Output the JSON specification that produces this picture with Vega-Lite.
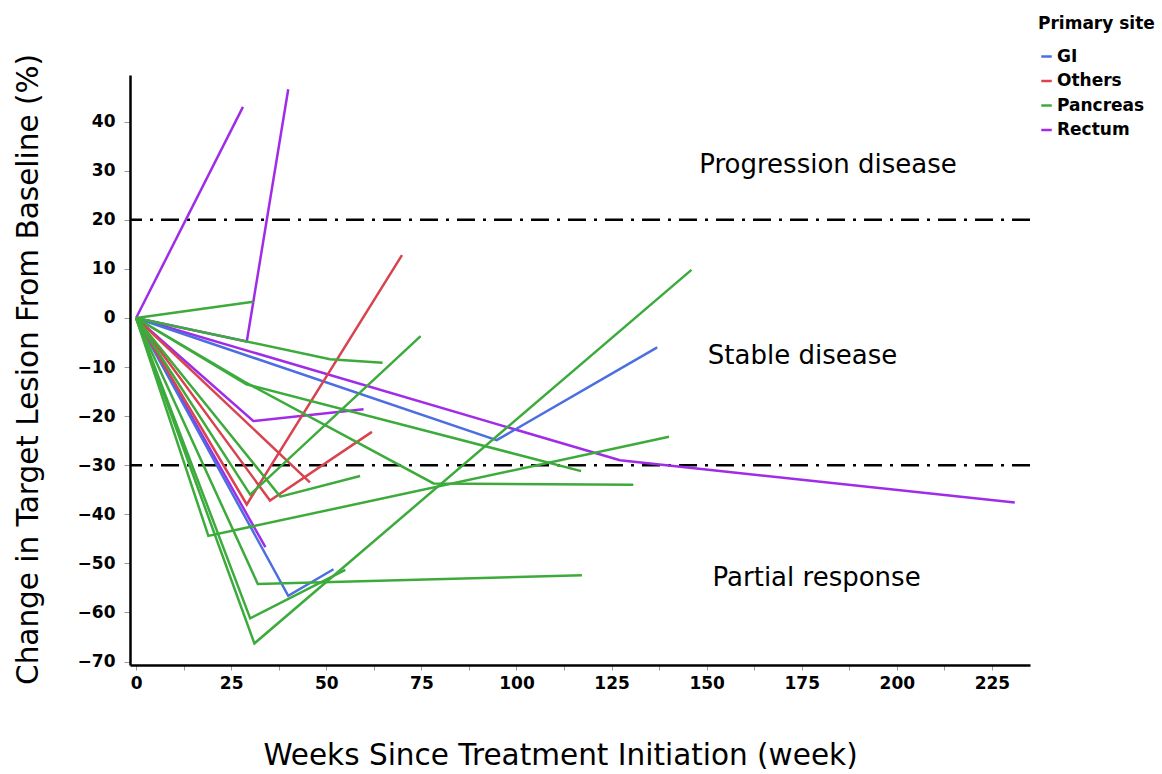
{
  "$schema": "https://vega.github.io/schema/vega-lite/v6.json",
  "width": 900,
  "height": 590,
  "autosize": {"type": "none"},
  "padding": {"left": 130, "top": 75, "right": 132, "bottom": 109},
  "background": "white",
  "config": {
    "view": {"stroke": null},
    "font": "DejaVu Sans",
    "axis": {"grid": false}
  },
  "datasets": {
    "lesions": [
      {"patient": "R1", "site": "Rectum", "week": 0, "change": 0},
      {"patient": "R1", "site": "Rectum", "week": 28.1, "change": 43},
      {"patient": "R2", "site": "Rectum", "week": 0, "change": 0},
      {"patient": "R2", "site": "Rectum", "week": 29.1, "change": -4.8},
      {"patient": "R2", "site": "Rectum", "week": 40, "change": 46.6},
      {"patient": "R3", "site": "Rectum", "week": 0, "change": 0},
      {"patient": "R3", "site": "Rectum", "week": 30.8, "change": -21},
      {"patient": "R3", "site": "Rectum", "week": 59.8, "change": -18.6},
      {"patient": "R4", "site": "Rectum", "week": 0, "change": 0},
      {"patient": "R4", "site": "Rectum", "week": 127.2, "change": -29},
      {"patient": "R4", "site": "Rectum", "week": 231, "change": -37.6},
      {"patient": "R5", "site": "Rectum", "week": 0, "change": 0},
      {"patient": "R5", "site": "Rectum", "week": 34, "change": -46.7},
      {"patient": "G1", "site": "GI", "week": 0, "change": 0},
      {"patient": "G1", "site": "GI", "week": 94.8, "change": -24.9},
      {"patient": "G1", "site": "GI", "week": 137, "change": -6.0},
      {"patient": "G2", "site": "GI", "week": 0, "change": 0},
      {"patient": "G2", "site": "GI", "week": 40, "change": -56.6},
      {"patient": "G2", "site": "GI", "week": 51.9, "change": -51.2},
      {"patient": "O1", "site": "Others", "week": 0, "change": 0},
      {"patient": "O1", "site": "Others", "week": 29.1, "change": -38},
      {"patient": "O1", "site": "Others", "week": 69.9, "change": 12.8},
      {"patient": "O2", "site": "Others", "week": 0, "change": 0},
      {"patient": "O2", "site": "Others", "week": 35.2, "change": -37.2},
      {"patient": "O2", "site": "Others", "week": 62, "change": -23.2},
      {"patient": "O3", "site": "Others", "week": 0, "change": 0},
      {"patient": "O3", "site": "Others", "week": 45.7, "change": -33.5},
      {"patient": "Pa", "site": "Pancreas", "week": 0, "change": 0},
      {"patient": "Pa", "site": "Pancreas", "week": 30.8, "change": 3.3},
      {"patient": "Pb", "site": "Pancreas", "week": 0, "change": 0},
      {"patient": "Pb", "site": "Pancreas", "week": 51, "change": -8.4},
      {"patient": "Pb", "site": "Pancreas", "week": 64.8, "change": -9.1},
      {"patient": "Pc", "site": "Pancreas", "week": 0, "change": 0},
      {"patient": "Pc", "site": "Pancreas", "week": 29, "change": -13.5},
      {"patient": "Pc", "site": "Pancreas", "week": 117, "change": -31.2},
      {"patient": "Pd", "site": "Pancreas", "week": 0, "change": 0},
      {"patient": "Pd", "site": "Pancreas", "week": 28.5, "change": -13},
      {"patient": "Pd", "site": "Pancreas", "week": 78.2, "change": -33.7},
      {"patient": "Pd", "site": "Pancreas", "week": 130.7, "change": -34},
      {"patient": "Pe", "site": "Pancreas", "week": 0, "change": 0},
      {"patient": "Pe", "site": "Pancreas", "week": 30, "change": -36},
      {"patient": "Pe", "site": "Pancreas", "week": 74.8, "change": -3.7},
      {"patient": "Pf", "site": "Pancreas", "week": 0, "change": 0},
      {"patient": "Pf", "site": "Pancreas", "week": 37.9, "change": -36.4},
      {"patient": "Pf", "site": "Pancreas", "week": 58.9, "change": -32.2},
      {"patient": "Pg", "site": "Pancreas", "week": 0, "change": 0},
      {"patient": "Pg", "site": "Pancreas", "week": 19, "change": -44.4},
      {"patient": "Pg", "site": "Pancreas", "week": 140.1, "change": -24.2},
      {"patient": "Ph", "site": "Pancreas", "week": 0, "change": 0},
      {"patient": "Ph", "site": "Pancreas", "week": 32, "change": -54.2},
      {"patient": "Ph", "site": "Pancreas", "week": 117.2, "change": -52.4},
      {"patient": "Pi", "site": "Pancreas", "week": 0, "change": 0},
      {"patient": "Pi", "site": "Pancreas", "week": 30, "change": -61.2},
      {"patient": "Pi", "site": "Pancreas", "week": 55, "change": -51.3},
      {"patient": "Pj", "site": "Pancreas", "week": 0, "change": 0},
      {"patient": "Pj", "site": "Pancreas", "week": 31.1, "change": -66.3},
      {"patient": "Pj", "site": "Pancreas", "week": 146, "change": 9.8}
    ],
    "thresholds": [
      {"change": 20},
      {"change": -30}
    ],
    "zones": [
      {"label": "Progression disease", "week": 181.9, "change": 29.5},
      {"label": "Stable disease", "week": 175.2, "change": -9.4},
      {"label": "Partial response", "week": 178.9, "change": -54.6}
    ]
  },
  "layer": [
    {
      "data": {"name": "thresholds"},
      "mark": {"type": "rule", "color": "black", "strokeWidth": 2.5, "strokeDash": [18, 8, 3, 8]},
      "encoding": {
        "y": {
          "field": "change", "type": "quantitative",
          "scale": {"domain": [-70.7, 49.5], "nice": false, "zero": false},
          "axis": {
            "title": "Change in Target Lesion From Baseline (%)",
            "values": [-70, -60, -50, -40, -30, -20, -10, 0, 10, 20, 30, 40],
            "labelFontSize": 17, "labelFontWeight": "bold", "labelColor": "black",
            "labelPadding": 9,
            "tickSize": 6, "tickColor": "#999", "tickWidth": 1,
            "domainColor": "black", "domainWidth": 2.5,
            "titleFontSize": 29.5, "titleFontWeight": "normal", "titleColor": "black",
            "titleX": -102, "titleY": 294, "titleBaseline": "middle", "titleAlign": "center", "titleAngle": -90
          }
        }
      }
    },
    {
      "data": {"name": "lesions"},
      "mark": {"type": "line", "strokeWidth": 2.5},
      "encoding": {
        "x": {
          "field": "week", "type": "quantitative",
          "scale": {"domain": [-1.6, 235], "nice": false, "zero": false},
          "axis": {
            "title": "Weeks Since Treatment Initiation (week)",
            "values": [0, 12.5, 25, 37.5, 50, 62.5, 75, 87.5, 100, 112.5, 125, 137.5, 150, 162.5, 175, 187.5, 200, 212.5, 225],
            "labelExpr": "datum.value % 25 == 0 ? datum.label : ''",
            "labelFontSize": 17, "labelFontWeight": "bold", "labelColor": "black",
            "labelPadding": 5,
            "tickSize": 5, "tickColor": "#999", "tickWidth": 1,
            "domainColor": "black", "domainWidth": 2.5,
            "titleFontSize": 29.5, "titleFontWeight": "normal", "titleColor": "black",
            "titleX": 430, "titleY": 99, "titleBaseline": "alphabetic", "titleAlign": "center"
          }
        },
        "y": {
          "field": "change", "type": "quantitative",
          "scale": {"domain": [-70.7, 49.5], "nice": false, "zero": false},
          "axis": {
            "title": "Change in Target Lesion From Baseline (%)",
            "values": [-70, -60, -50, -40, -30, -20, -10, 0, 10, 20, 30, 40],
            "labelFontSize": 17, "labelFontWeight": "bold", "labelColor": "black",
            "labelPadding": 9,
            "tickSize": 6, "tickColor": "#999", "tickWidth": 1,
            "domainColor": "black", "domainWidth": 2.5,
            "titleFontSize": 29.5, "titleFontWeight": "normal", "titleColor": "black",
            "titleX": -102, "titleY": 294, "titleBaseline": "middle", "titleAlign": "center", "titleAngle": -90
          }
        },
        "color": {
          "field": "site", "type": "nominal",
          "scale": {"domain": ["GI", "Others", "Pancreas", "Rectum"], "range": ["#4B6FE0", "#D8434F", "#3CAB3C", "#A02CE8"]},
          "legend": {
            "title": "Primary site",
            "orient": "none", "legendX": 908, "legendY": -59,
            "titleFontSize": 17, "titleFontWeight": "bold", "titleColor": "black", "titlePadding": 15,
            "labelFontSize": 17, "labelFontWeight": "bold", "labelColor": "black", "labelOffset": 2,
            "symbolType": "stroke", "symbolStrokeWidth": 2.5, "symbolSize": 110,
            "rowPadding": 6.5
          }
        },
        "detail": {"field": "patient", "type": "nominal"}
      }
    },
    {
      "data": {"name": "zones"},
      "mark": {"type": "text", "fontSize": 26, "align": "center", "baseline": "alphabetic", "color": "black"},
      "encoding": {
        "x": {
          "field": "week", "type": "quantitative",
          "scale": {"domain": [-1.6, 235], "nice": false, "zero": false},
          "axis": {
            "title": "Weeks Since Treatment Initiation (week)",
            "values": [0, 12.5, 25, 37.5, 50, 62.5, 75, 87.5, 100, 112.5, 125, 137.5, 150, 162.5, 175, 187.5, 200, 212.5, 225],
            "labelExpr": "datum.value % 25 == 0 ? datum.label : ''",
            "labelFontSize": 17, "labelFontWeight": "bold", "labelColor": "black",
            "labelPadding": 5,
            "tickSize": 5, "tickColor": "#999", "tickWidth": 1,
            "domainColor": "black", "domainWidth": 2.5,
            "titleFontSize": 29.5, "titleFontWeight": "normal", "titleColor": "black",
            "titleX": 430, "titleY": 99, "titleBaseline": "alphabetic", "titleAlign": "center"
          }
        },
        "y": {
          "field": "change", "type": "quantitative",
          "scale": {"domain": [-70.7, 49.5], "nice": false, "zero": false},
          "axis": {
            "title": "Change in Target Lesion From Baseline (%)",
            "values": [-70, -60, -50, -40, -30, -20, -10, 0, 10, 20, 30, 40],
            "labelFontSize": 17, "labelFontWeight": "bold", "labelColor": "black",
            "labelPadding": 9,
            "tickSize": 6, "tickColor": "#999", "tickWidth": 1,
            "domainColor": "black", "domainWidth": 2.5,
            "titleFontSize": 29.5, "titleFontWeight": "normal", "titleColor": "black",
            "titleX": -102, "titleY": 294, "titleBaseline": "middle", "titleAlign": "center", "titleAngle": -90
          }
        },
        "text": {"field": "label"}
      }
    }
  ]
}
